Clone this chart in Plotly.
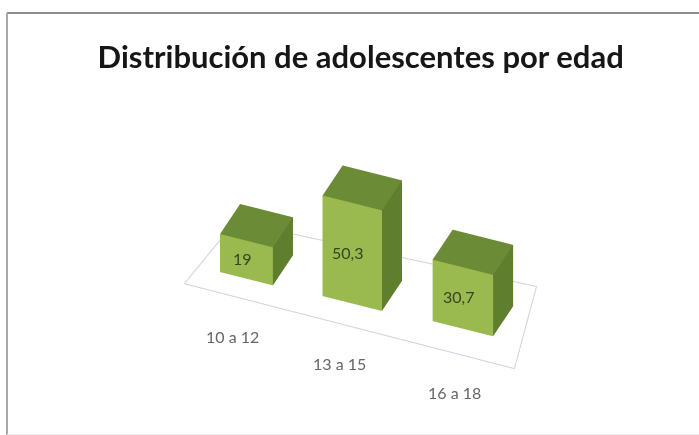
import plotly.graph_objects as go

title_text = "Distribución de adolescentes por edad"
categories = ["10 a 12", "13 a 15", "16 a 18"]
values = [19, 50.3, 30.7]
value_labels = ["19", "50,3", "30,7"]

# Bar placement on the floor, in axis units
bar_centres = [0, 0.97, 1.98]
bar_offsets_y = [0, 0.02, 0.05]
bar_half_widths = [0.245, 0.275, 0.28]
bar_half_depth = 0.2
category_label_x = [0.2, 1.19, 2.25]

floor_x = [-0.465, 2.60, 2.341, -0.392, -0.465]
floor_y = [-0.435, -0.457, 0.5425, 0.418, -0.435]

FRONT, TOP, SIDE = "#9aba4f", "#6b8b37", "#5f7f2e"
X_RANGE, Y_RANGE, Z_RANGE = [-0.8, 2.8], [-1, 1], [-5, 60]


def bar_mesh(cx, cy, hw, h):
    x0, x1 = cx - hw, cx + hw
    y0, y1 = cy - bar_half_depth, cy + bar_half_depth
    xs = [x0, x1, x1, x0, x0, x1, x1, x0]
    ys = [y0, y0, y1, y1, y0, y0, y1, y1]
    zs = [0, 0, 0, 0, h, h, h, h]
    faces = [
        (0, 1, 5, FRONT), (0, 5, 4, FRONT),
        (4, 5, 6, TOP), (4, 6, 7, TOP),
        (1, 2, 6, SIDE), (1, 6, 5, SIDE),
    ]
    return go.Mesh3d(
        x=xs, y=ys, z=zs,
        i=[f[0] for f in faces], j=[f[1] for f in faces], k=[f[2] for f in faces],
        facecolor=[f[3] for f in faces],
        flatshading=True,
        lighting=dict(ambient=1, diffuse=0, specular=0, fresnel=0, roughness=1),
        hoverinfo="skip", showscale=False,
    )


fig = go.Figure()
fig.add_trace(go.Scatter3d(
    x=floor_x, y=floor_y, z=[0] * len(floor_x),
    mode="lines", line=dict(color="#cdd2de", width=2), hoverinfo="skip", showlegend=False,
))
for c, oy, hw, v in zip(bar_centres, bar_offsets_y, bar_half_widths, values):
    fig.add_trace(bar_mesh(c, oy, hw, v))

annotations = []
for c, oy, lx, cat, v, lab in zip(bar_centres, bar_offsets_y, category_label_x,
                                  categories, values, value_labels):
    annotations.append(dict(x=c - 0.04, y=oy - bar_half_depth, z=v / 2, text=lab, showarrow=False,
                            font=dict(family="Lato", size=16, color="#37441f")))
    annotations.append(dict(x=lx, y=-0.9, z=0, text=cat, showarrow=False,
                            font=dict(family="Lato", size=16, color="#666666")))

hidden = dict(visible=False)
fig.update_layout(
    width=699, height=435,
    margin=dict(l=0, r=0, t=0, b=0),
    paper_bgcolor="white",
    showlegend=False,
    title=dict(text=title_text, x=0.516, xanchor="center", y=0.868, yanchor="middle",
               font=dict(family="Lato", size=31, color="#161616", weight=700)),
    scene=dict(
        xaxis=dict(range=X_RANGE, **hidden),
        yaxis=dict(range=Y_RANGE, **hidden),
        zaxis=dict(range=Z_RANGE, **hidden),
        aspectmode="manual",
        aspectratio=dict(x=1.932, y=1.216, z=0.757),
        camera=dict(eye=dict(x=0.8135, y=-2.168, z=1.9065), up=dict(x=0, y=0, z=1),
                    center=dict(x=-0.0835, y=0.0217, z=0.0665),
                    projection=dict(type="orthographic")),
        domain=dict(x=[0, 1], y=[0, 1]),
        annotations=annotations,
    ),
    shapes=[
        dict(type="line", xref="paper", yref="paper", x0=7 / 699, x1=1, y0=1 - 13 / 435, y1=1 - 13 / 435,
             line=dict(color="#8f8f8f", width=2)),
        dict(type="line", xref="paper", yref="paper", x0=7 / 699, x1=7 / 699, y0=0, y1=1 - 13 / 435,
             line=dict(color="#a8a8a8", width=2)),
        dict(type="line", xref="paper", yref="paper", x0=7 / 699, x1=1, y0=0.5 / 435, y1=0.5 / 435,
             line=dict(color="#eeeeee", width=1)),
    ],
)
fig.write_html("out.html")
